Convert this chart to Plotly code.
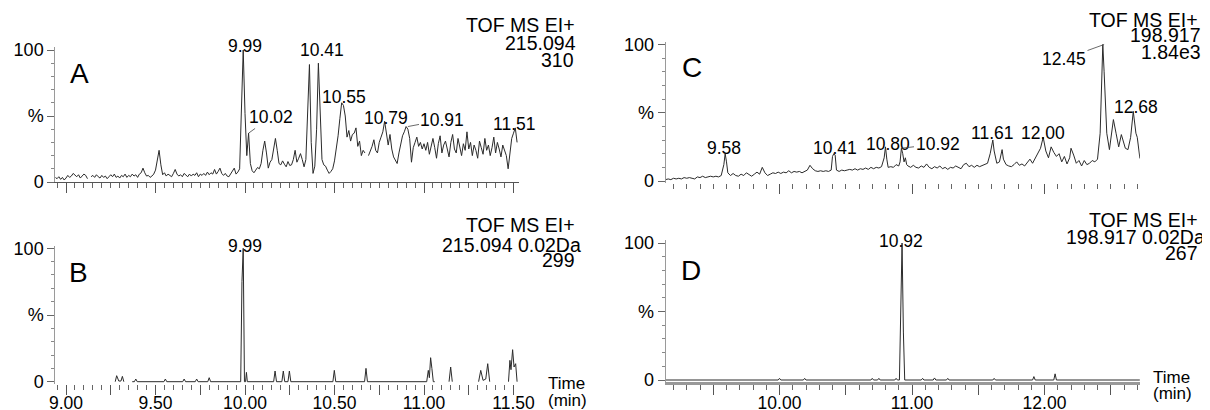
import plotly.graph_objects as go

# ---------------- data ----------------
# Panel A: TIC-like trace, sampled every 0.01 min from 8.94 min
A_START, A_STEP = 8.94, 0.01
A_INT = [
    3.5, 2.5, 4, 2, 3.5, 1.5, 3, 5, 3.5, 4.5,
    6.5, 5, 4, 5.5, 3, 4.5, 6, 5, 2.5, None,
    4, 5, 3.5, 5.5, 4, 3, 5, 3.5, 4.5, 2.5,
    4, 5.5, 4, 6, 3.5, 4.5, 3, 5, 4, 6,
    3.5, 5, 4, 6, 4.5, 5.5, 3.5, 6, 7, 10.5,
    7, 4.5, 5, 3.5, 4.5, 6, 9, 18, 24, 13,
    5.5, 7, 4.5, 6, 5, 4, 6.5, 9.5, 6, 4.5,
    5.5, 4, 6.5, 5, 4, 6, 4.5, 6, 5, 7,
    4, 6, 5, 6.5, 5, 7.5, 5.5, 7, 6, 9.5,
    6, 8, 10.5, 6.5, 5, 6.5, 4.5, 4, 6, 9,
    10.5, 6, 7.5, 10, 62, 100, 52, 20, 37, 14,
    8.5, 7, 9, 11, 10, 14, 24, 31, 22, 10.5,
    15, 17, 25, 33, 24, 14, 13, 16, 13.5, 11.5,
    15.5, 12.5, 13, 17, 24, 15, 18, 21.5, 17, 11.5,
    17, 55, 89, 30, 6.5, 12, 40, 90, 45, 17,
    13, 12, 9, 6.5, 8, 10, 16, 25, 35, 48,
    60, 58, 50, 34, 39, 31, 36, 37, 41, 27,
    31, 20, 24, 22, None, 20, 23, 27, 32, 24,
    22, 30, 34, 38, 46, 36, 28, 36, 25, 19,
    16, 14, 22, 29, 35, 38, 42, 40, 33, 15,
    26, 30, 34, 27, 30, 25, 29, 24, 30, 21,
    27, 33, 26, 18, 29, 35, 22, 28, 31, 24,
    19, 30, 36, 25, 22, 33, 27, 20, 29, 24,
    38, 25, 30, 20, 28, 24, 18, 31, 26, 21,
    33, 24, 28, 20, 26, 34, 22, 30, 25, 19,
    28, 23, 20, 10, 24, 33, 37, 41, 30,
]
A_TIME = [round(A_START + i * A_STEP, 2) for i in range(len(A_INT))]

# Panel B: extracted ion chromatogram 215.094
B_TIME = [
    9.275, 9.283, 9.295, 9.307, 9.315, 9.323, 9.35,
    9.37, 9.382, 9.39, 9.398, 9.547, 9.555, 9.563, 9.652, 9.66, 9.668,
    9.722, 9.73, 9.738, 9.792, 9.80, 9.808, 9.976, 9.983, 9.99, 9.997,
    10.003, 10.008, 10.013, 10.16, 10.168, 10.176, 10.206, 10.214, 10.222,
    10.24, 10.248, 10.256, 10.491, 10.499, 10.507, 10.668, 10.676, 10.684,
    11.015, 11.024, 11.03, 11.037, 11.044, 11.052, 11.06, 11.09,
    11.14, 11.149, 11.158, 11.20,
    11.305, 11.317, 11.33, 11.345, 11.356, 11.367, 11.42,
    11.472, 11.48, 11.486, 11.495, 11.503, 11.512, 11.52,
]
B_INT = [
    0, 4.5, 0.5, 0.5, 4, 0, None,
    0, 0, 2, 0, 0, 2, 0, 0, 2, 0,
    0, 2, 0, 0, 3, 0, 0, 75, 100, 0,
    0, 7, 0, 0, 8, 0, 0, 8, 0,
    0, 8, 0, 0, 8.5, 0, 0, 10, 0,
    0, 8.5, 3, 18, 10, 0, 0, None,
    0, 11, 0, None,
    0, 8.5, 1, 2, 13.5, 0, None,
    0, 16, 9, 24, 11, 13.5, 0,
]

# Panel C: TIC-like trace for 198.917
C_TIME = [
    9.14, 9.16, 9.18, 9.20, 9.22, 9.24, 9.26, 9.28, 9.30, 9.32,
    9.34, 9.36, 9.38, 9.40, 9.42, 9.44, 9.46, 9.48, 9.50, 9.52,
    9.54, 9.56, 9.58, 9.59, 9.60, 9.61, 9.63, 9.65, 9.67, 9.69,
    9.71, 9.73, 9.75, 9.77, 9.79, 9.81, 9.83, 9.85, 9.87, 9.89,
    9.91, 9.93, 9.95, 9.97, 9.99, 10.01, 10.03, 10.05, 10.07, 10.09,
    10.11, 10.13, 10.15, 10.17, 10.19, 10.21, 10.23, 10.25, 10.27, 10.29,
    10.31, 10.33, 10.35, 10.37, 10.39, 10.40, 10.41, 10.42, 10.43, 10.45,
    10.47, 10.49, 10.51, 10.53, 10.55, 10.57, 10.59, 10.61, 10.63, 10.65,
    10.67, 10.69, 10.71, 10.73, 10.75, 10.77, 10.79, 10.80, 10.81, 10.82,
    10.84, 10.86, 10.88, 10.90, 10.91, 10.92, 10.93, 10.94, 10.95, 10.96,
    10.97, 10.99, 11.01, 11.03, 11.05, 11.07, 11.09, 11.11, 11.13, 11.15,
    11.17, 11.19, 11.21, 11.23, 11.25, 11.27, 11.29, 11.31, 11.33, 11.35,
    11.37, 11.39, 11.41, 11.43, 11.45, 11.47, 11.49, 11.51, 11.53, 11.55,
    11.57, 11.59, 11.61, 11.62, 11.64, 11.66, 11.68, 11.69, 11.71, 11.73,
    11.75, 11.77, 11.79, 11.81, 11.83, 11.85, 11.87, 11.89, 11.91, 11.93,
    11.95, 11.97, 11.99, 12.01, 12.03, 12.05, 12.07, 12.09, 12.11, 12.13,
    12.15, 12.17, 12.19, 12.20, 12.22, 12.24, 12.26, 12.28, 12.30, 12.32,
    12.34, 12.36, 12.38, 12.40, 12.42, 12.43, 12.44, 12.45, 12.46,
    12.47, 12.49, 12.52, 12.54, 12.56, 12.58, 12.61, 12.63, 12.65, 12.67,
    12.69, 12.70, 12.72,
]
C_INT = [
    1, 1.5, 1, 2, 1.5, 2, 1.5, 2.5, 2, 2.5,
    2, 1.5, 3, 2.5, 3.5, 2.5, 3, 3.5, 3, 3.5,
    3, 4, 12, 20, 14, 6, 4, 5.5, 4, 3.5,
    5, 4, 6, 5, 3.5, 5, 6.5, 5, 10, 6,
    4, 5, 6, 5.5, 6.5, 5.5, 6.5, 6, 7.5, 6,
    7, 6.5, 7, 6, 7, 8, 11.5, 9, 7.5, 7,
    7.5, 7, 7.5, 7, 8, 18, 20, 19, 8, 7,
    8, 7.5, 8, 8.5, 8, 9, 8, 9, 8.5, 9.5,
    8.5, 10, 9, 10, 9.5, 10.5, 17, 25, 16, 10,
    10.5, 10, 12, 11, 14, 24, 20, 14, 17, 12,
    11, 10, 11.5, 10, 9.5, 11, 10, 12.5, 10, 9,
    10.5, 9.5, 11, 9, 10, 8.5, 10, 9.5, 11, 10,
    9, 12, 13, 10.5, 11.5, 10, 11.5, 10.5, 11.5, 12,
    13, 20, 30, 22, 13, 14, 23, 16, 12, 11,
    10.5, 12, 14, 11.5, 12.5, 11, 14, 16, 13, 17,
    20, 24, 32, 22, 17, 25, 21, 18, 20, 14,
    18, 12.5, 17, 24, 19, 13, 15, 11, 15, 12,
    13, 15, 14, 16, 35, 70, 100, 80, 59,
    35, 23, 45, 35, 25, 34, 24, 23, 32, 51,
    35, 32, 16.5,
]

# Panel D: extracted ion chromatogram 198.917
D_TIME = [
    9.14, 9.99, 10.00, 10.01, 10.18, 10.19, 10.20, 10.69, 10.70, 10.71,
    10.74, 10.75, 10.76, 10.87, 10.88, 10.89, 10.905, 10.915, 10.925, 10.935,
    10.945, 11.07, 11.08, 11.09, 11.16, 11.17, 11.18, 11.26, 11.27, 11.28,
    11.61, 11.62, 11.63, 11.91, 11.92, 11.93, 12.07, 12.08, 12.09, 12.72,
]
D_INT = [
    0, 0, 1.2, 0, 0, 1.2, 0, 0, 1.2, 0,
    0, 1.2, 0, 0, 1.2, 0, 0, 55, 100, 35,
    0, 0, 1.2, 0, 0, 1.5, 0, 0, 1.2, 0,
    0, 1.2, 0, 0, 2.5, 0, 0, 4.5, 0, 0,
]

A_PEAKS = ["9.99", "10.02", "10.41", "10.55", "10.79", "10.91", "11.51"]
B_PEAKS = ["9.99"]
C_PEAKS = ["9.58", "10.41", "10.80", "10.92", "11.61", "12.00", "12.45", "12.68"]
D_PEAKS = ["10.92"]

A_HEADER = ["TOF MS EI+", "215.094", "310"]
B_HEADER = ["TOF MS EI+", "215.094 0.02Da", "299"]
C_HEADER = ["TOF MS EI+", "198.917", "1.84e3"]
D_HEADER = ["TOF MS EI+", "198.917 0.02Da", "267"]

PANEL_LETTERS = ["A", "B", "C", "D"]
LEFT_TICK_LABELS = ["9.00", "9.50", "10.00", "10.50", "11.00", "11.50"]
RIGHT_TICK_LABELS = ["10.00", "11.00", "12.00"]
Y_TICK_VALUES = [0, 50, 100]
Y_TICK_LABELS = ["0", "%", "100"]
X_TITLE = ["Time", "(min)"]

# ---------------- layout / style ----------------
W, H = 1210, 410          # target picture size
OFF = 8                   # page body margin that offsets the figure in the browser
FW, FH = W - OFF, H - OFF  # figure size
FONT = "Liberation Sans, Arial, Helvetica, sans-serif"
TRACE_COLOR = "#2b2b2b"

# pixel geometry: x10 = pixel of t=10, xs = px/min, y0 = pixel of 0 %, ys = px per %
GEOM = {
    "A": dict(sfx="", xr=(8.94, 11.53), x10=245.0, xs=179.0, yr=(0, 102), y0=182.0, ys=1.32),
    "B": dict(sfx="2", xr=(8.94, 11.53), x10=245.0, xs=179.0, yr=(-1.5, 102), y0=381.7, ys=1.334),
    "C": dict(sfx="3", xr=(9.14, 12.72), x10=779.5, xs=132.5, yr=(-1.5, 102), y0=181.0, ys=1.365),
    "D": dict(sfx="4", xr=(9.14, 12.72), x10=779.5, xs=132.5, yr=(-1.2, 102), y0=380.0, ys=1.37),
}

SERIES = {
    "A": (A_TIME, A_INT, A_PEAKS, A_HEADER),
    "B": (B_TIME, B_INT, B_PEAKS, B_HEADER),
    "C": (C_TIME, C_INT, C_PEAKS, C_HEADER),
    "D": (D_TIME, D_INT, D_PEAKS, D_HEADER),
}

# label placement: (xshift, yshift) or ("arrow", ax, ay)
LABEL_STYLE = {
    "A": [(1.3, 4), ("arrow", 22.4, -16.2), (4, 13), (0.5, 6), (0, 3), ("arrow", 34.6, -6.6), (-1, 4)],
    "B": [(1.3, 2.3)],
    "C": [(0.6, 5.7), (0.7, 5.7), (2, 3), ("arrow", 36.1, -4.2), (0, 7.5), (-1.5, 4.8),
          ("arrow", -40.1, 14.5), (1, 4.4)],
    "D": [(0, 2)],
}
# header lines: (right edge px, centre py) in picture pixels
HEADER_POS = {
    "A": [(577, 25), (578, 43), (576, 60)],
    "B": [(577, 225), (583, 245), (577, 260)],
    "C": [(1200, 20), (1203, 35.5), (1203, 52.5)],
    "D": [(1200, 220), (1207, 236.5), (1200, 253)],
}
LETTER_POS = {"A": (79, 73), "B": (78.5, 272.5), "C": (692, 68), "D": (691, 270.5)}
XTITLE_POS = {"B": [(546, 383), (546, 400.5)], "D": [(1151, 377), (1151, 393.5)]}


def paper_x(px):
    return (px - OFF) / FW


def paper_y(py):
    return 1 - (py - OFF) / FH


def x_domain(g):
    return [paper_x(g["x10"] + (g["xr"][0] - 10) * g["xs"]),
            paper_x(g["x10"] + (g["xr"][1] - 10) * g["xs"])]


def y_domain(g):
    top = g["y0"] - g["yr"][1] * g["ys"]
    bot = g["y0"] - g["yr"][0] * g["ys"]
    return [paper_y(bot), paper_y(top)]


def major_ticks(labels, half, lo, hi):
    vals = {}
    for lab in labels:
        vals[round(float(lab), 3)] = lab
    for lab in labels:
        v = float(lab)
        for m in (v - half, v + half):
            m = round(m, 3)
            if lo <= m <= hi and m not in vals:
                vals[m] = ""
    keys = sorted(vals)
    return keys, [vals[k] for k in keys]


def peak_height(times, ints, t, win=0.0151):
    vals = [v for tt, v in zip(times, ints) if v is not None and abs(tt - t) <= win]
    return max(vals)


fig = go.Figure()
annotations = []

for key in ["A", "B", "C", "D"]:
    g = GEOM[key]
    sfx = g["sfx"]
    times, ints, peaks, header = SERIES[key]
    xref = "x" + sfx
    yref = "y" + sfx
    fig.add_trace(go.Scatter(x=times, y=ints, mode="lines", connectgaps=False,
                             line=dict(color=TRACE_COLOR, width=1),
                             xaxis=xref, yaxis=yref, hoverinfo="skip", showlegend=False))

    left = key in ("A", "B")
    bottom = key in ("B", "D")
    labels = LEFT_TICK_LABELS if left else RIGHT_TICK_LABELS
    half = 0.25 if left else 0.5
    tv, tt = major_ticks(labels, half, g["xr"][0], g["xr"][1])
    xaxis = dict(
        domain=x_domain(g), range=list(g["xr"]), anchor=yref, automargin=False,
        showgrid=False, zeroline=False,
        tickmode="array", tickvals=tv, ticktext=tt,
        ticks="outside", ticklen=10, tickwidth=1, tickcolor="#555",
        showticklabels=bottom, ticklabelstandoff=-7,
        tickfont=dict(family=FONT, size=17.5, color="black"),
        minor=dict(tick0=9.0, dtick=0.05 if left else 0.1, ticks="outside",
                   ticklen=5, tickwidth=1, tickcolor="#666", showgrid=False),
        fixedrange=True,
    )
    if key == "A":
        xaxis.update(showline=True, linecolor="#555", linewidth=1)
    elif key == "D":
        xaxis.update(showline=True, linecolor="#999", linewidth=3)
    else:
        xaxis.update(showline=False)

    yaxis = dict(
        domain=y_domain(g), range=list(g["yr"]), anchor=xref, automargin=False,
        showgrid=False, zeroline=False,
        showline=True, linecolor="#9a9a9a", linewidth=1,
        tickmode="array", tickvals=Y_TICK_VALUES, ticktext=Y_TICK_LABELS,
        ticks="outside", ticklen=7, tickwidth=1, tickcolor="#666",
        tickfont=dict(family=FONT, size=18, color="black"),
        minor=dict(tick0=0, dtick=10, ticks="outside", ticklen=3, tickwidth=1,
                   tickcolor="#888", showgrid=False),
        fixedrange=True,
    )
    fig.update_layout(**{"xaxis" + sfx: xaxis, "yaxis" + sfx: yaxis})

    # peak labels
    for lab, st in zip(peaks, LABEL_STYLE[key]):
        t = float(lab)
        y = peak_height(times, ints, t)
        base = dict(x=t, y=y, xref=xref, yref=yref, text=lab,
                    font=dict(family=FONT, size=17.5, color="black"))
        if st[0] == "arrow":
            base.update(showarrow=True, ax=st[1], ay=st[2], arrowhead=0,
                        arrowwidth=0.8, arrowcolor="#444", standoff=0,
                        startstandoff=0, xanchor="center", yanchor="middle")
        else:
            base.update(showarrow=False, xshift=st[0], yshift=st[1],
                        xanchor="center", yanchor="middle")
        annotations.append(base)

    # header text block
    for txt, (rx, cy) in zip(header, HEADER_POS[key]):
        annotations.append(dict(x=paper_x(rx), y=paper_y(cy), xref="paper", yref="paper",
                                text=txt, showarrow=False, xanchor="right", yanchor="middle",
                                font=dict(family=FONT, size=19.5, color="black")))

    # panel letter
    lx, ly = LETTER_POS[key]
    annotations.append(dict(x=paper_x(lx), y=paper_y(ly), xref="paper", yref="paper",
                            text=PANEL_LETTERS["ABCD".index(key)], showarrow=False,
                            xanchor="center", yanchor="middle",
                            font=dict(family=FONT, size=28, color="black")))

    # axis title (bottom panels)
    if key in XTITLE_POS:
        for txt, (lx2, cy2) in zip(X_TITLE, XTITLE_POS[key]):
            annotations.append(dict(x=paper_x(lx2), y=paper_y(cy2), xref="paper", yref="paper",
                                    text=txt, showarrow=False, xanchor="left", yanchor="middle",
                                    font=dict(family=FONT, size=17, color="black")))

fig.update_layout(
    width=FW, height=FH,
    margin=dict(l=0, r=0, t=0, b=0, autoexpand=False),
    paper_bgcolor="white", plot_bgcolor="white",
    showlegend=False,
    annotations=annotations,
    font=dict(family=FONT, color="black"),
)

fig.write_html("out.html")
